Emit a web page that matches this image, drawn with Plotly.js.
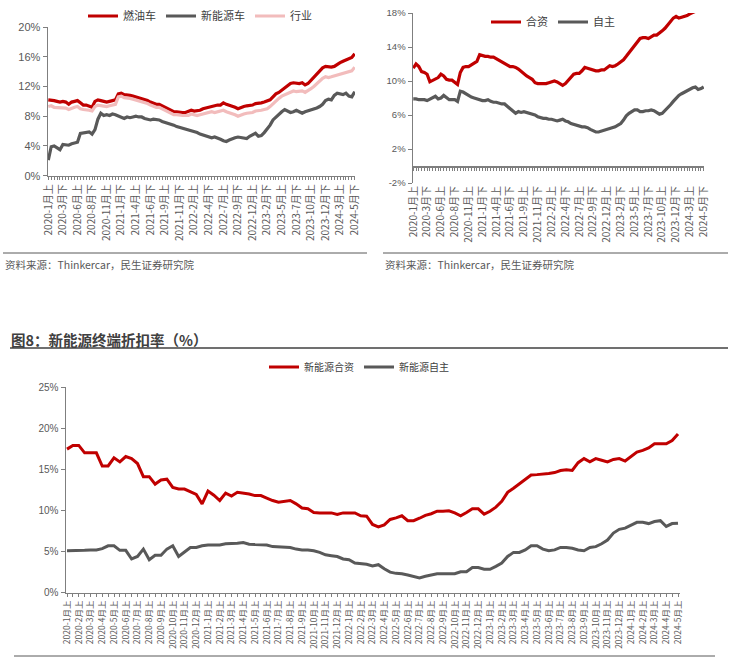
<!DOCTYPE html>
<html><head><meta charset="utf-8">
<script src="https://cdn.plot.ly/plotly-3.0.1.min.js"></script>
<style>html,body{margin:0;padding:0;background:#fff}#chart{width:731px;height:661px}</style>
</head><body><div id="chart"></div>
<script>
// ---------- categories (half-month periods) ----------
function halfMonths(count){
  const out=[];
  let y=2020,m=1,h=0;
  while(out.length<count){
    out.push(y+'-'+m+'月'+(h===0?'上':'下'));
    if(h===0){h=1;}else{h=0;m++;if(m>12){m=1;y++;}}
  }
  return out;
}
const periodsTop = halfMonths(106);   // 2020-1月上 ... 2024-5月下
const periodsBottom = halfMonths(105); // 2020-1月上 ... 2024-5月上

// ---------- chart 1 : 燃油车 / 新能源车 / 行业 ----------
const fuelCar = [10.2,10.2,10.1,10.0,9.9,10.0,9.9,9.6,9.9,10.0,10.1,9.8,9.5,9.5,9.4,9.2,10.0,10.2,10.1,10.0,
9.9,10.0,10.1,10.2,11.0,11.1,10.9,10.9,10.8,10.7,10.6,10.4,10.3,10.2,10.1,9.9,9.7,9.6,9.6,9.4,
9.2,9.0,8.9,8.6,8.6,8.5,8.5,8.5,8.6,8.8,8.7,8.7,8.8,9.0,9.1,9.3,9.4,9.4,9.5,9.5,
9.8,9.6,9.5,9.3,9.2,9.0,9.2,9.3,9.4,9.4,9.5,9.7,9.7,9.8,9.9,10.0,10.2,10.6,11.0,11.2,
11.5,11.8,12.1,12.4,12.5,12.4,12.4,12.5,12.2,12.4,12.8,13.2,13.6,14.1,14.5,14.7,14.6,14.6,14.7,15.0,
15.2,15.4,15.6,15.8,15.9,16.4];
const nevCar = [2.1,3.9,4.0,3.8,3.5,4.2,4.1,4.1,4.3,4.4,4.5,5.7,5.8,5.8,5.9,5.6,6.2,7.6,8.4,8.1,
8.2,8.1,8.3,8.2,8.0,7.9,7.7,7.9,7.8,7.9,8.0,7.9,7.9,7.7,7.6,7.5,7.6,7.6,7.5,7.3,
7.2,7.0,6.9,6.8,6.6,6.5,6.4,6.3,6.2,6.1,5.9,5.8,5.6,5.5,5.3,5.2,5.1,5.2,5.1,4.9,
4.7,4.6,4.8,5.0,5.1,5.2,5.1,5.0,5.0,5.3,5.5,5.7,5.3,5.4,5.8,6.3,6.8,7.5,7.9,8.2,
8.6,8.9,8.7,8.5,8.6,8.8,8.6,8.4,8.6,8.7,8.8,9.0,9.1,9.3,9.6,10.1,10.3,10.2,10.8,11.1,
11.0,10.9,11.1,10.7,10.6,11.3];
const industry = [9.3,9.4,9.2,9.2,9.1,9.2,9.1,8.9,9.1,9.2,9.3,9.0,8.9,8.9,8.8,8.7,9.3,9.5,9.4,9.4,
9.3,9.4,9.5,9.6,10.6,10.7,10.5,10.5,10.4,10.3,10.2,10.0,9.9,9.8,9.7,9.5,9.3,9.2,9.2,9.0,
8.8,8.6,8.5,8.2,8.2,8.1,8.1,8.1,8.1,8.3,8.2,8.1,8.2,8.3,8.3,8.5,8.6,8.5,8.6,8.6,
8.8,8.6,8.5,8.3,8.2,8.0,8.2,8.3,8.4,8.4,8.5,8.7,8.7,8.8,8.9,9.0,9.3,9.7,10.1,10.4,
10.7,10.9,11.1,11.3,11.4,11.3,11.3,11.4,11.2,11.4,11.7,12.0,12.4,12.8,13.1,13.3,13.2,13.3,13.4,13.5,
13.7,13.8,13.9,14.0,14.1,14.6];

// ---------- chart 2 : 合资 / 自主 ----------
const jointVenture = [11.5,12.0,11.7,11.1,11.0,10.8,9.9,10.1,10.2,10.4,10.8,10.6,10.2,10.1,10.1,9.9,9.6,11.0,11.6,11.7,
11.7,11.9,12.1,12.3,13.1,13.0,12.9,12.9,12.8,12.8,12.6,12.4,12.3,12.0,11.8,11.7,11.7,11.6,11.4,11.1,
10.9,10.6,10.4,10.2,9.8,9.7,9.7,9.7,9.7,9.8,9.9,10.0,9.9,9.7,9.5,9.7,10.1,10.5,10.8,10.9,
10.9,11.2,11.6,11.5,11.4,11.3,11.2,11.2,11.3,11.3,11.5,11.8,11.7,11.8,12.0,12.2,12.5,12.9,13.3,13.7,
14.1,14.5,15.0,15.1,15.1,15.0,15.2,15.4,15.4,15.6,15.9,16.2,16.6,17.0,17.4,17.6,17.4,17.5,17.6,17.7,
17.9,18.0,18.2,18.4,18.6,18.8];
const domestic = [7.9,7.9,7.8,7.8,7.8,7.7,7.9,8.0,8.2,7.9,8.0,8.3,8.0,7.8,7.8,7.8,7.6,8.8,8.7,8.5,
8.2,8.1,8.0,7.9,7.8,7.7,7.7,7.8,7.6,7.5,7.5,7.4,7.3,7.3,7.0,6.7,6.4,6.2,6.4,6.3,
6.4,6.3,6.2,6.1,6.0,5.8,5.7,5.6,5.6,5.5,5.5,5.4,5.3,5.4,5.5,5.3,5.2,5.0,4.9,4.8,
4.7,4.6,4.6,4.5,4.3,4.1,4.0,4.0,4.1,4.2,4.3,4.4,4.5,4.6,4.8,5.0,5.4,5.9,6.2,6.4,
6.6,6.6,6.4,6.4,6.5,6.5,6.6,6.5,6.3,6.1,6.2,6.5,6.8,7.2,7.6,8.0,8.3,8.5,8.7,8.8,
9.1,9.2,9.3,9.0,9.1,9.3];

// ---------- chart 3 : 新能源合资 / 新能源自主 ----------
const nevJV = [17.45,17.9,17.9,17.0,17.0,17.0,15.4,15.4,16.4,15.9,16.55,16.3,15.7,14.1,14.1,13.2,13.7,13.8,12.8,12.6,
12.6,12.3,11.95,10.8,12.35,11.85,11.2,12.1,11.75,12.2,12.1,12.0,11.8,11.8,11.5,11.2,11.0,11.1,11.2,10.8,
10.3,10.2,9.75,9.7,9.7,9.7,9.5,9.7,9.7,9.7,9.35,9.3,8.3,8.0,8.25,8.9,9.1,9.35,8.75,8.75,
9.05,9.4,9.6,9.9,9.9,9.95,9.7,9.35,9.75,10.2,10.2,9.55,9.9,10.4,11.1,12.2,12.7,13.25,13.7,14.3,
14.35,14.4,14.5,14.6,14.85,14.95,14.85,15.8,16.3,15.9,16.3,16.1,15.9,16.2,16.3,16.0,16.5,17.1,17.3,17.6,
18.1,18.1,18.1,18.5,19.3];
const nevDomestic = [5.1,5.1,5.15,5.15,5.2,5.2,5.35,5.7,5.7,5.15,5.15,4.1,4.4,5.3,4.0,4.55,4.55,5.3,5.7,4.4,
4.95,5.5,5.5,5.7,5.8,5.8,5.8,5.95,5.95,6.0,6.1,5.9,5.85,5.85,5.8,5.6,5.55,5.5,5.5,5.3,
5.2,5.2,5.1,4.9,4.6,4.5,4.4,4.1,4.0,3.6,3.5,3.45,3.25,3.4,2.9,2.5,2.35,2.3,2.15,1.95,
1.8,2.0,2.15,2.3,2.3,2.3,2.3,2.55,2.55,3.05,3.05,2.85,2.85,3.2,3.6,4.4,4.9,4.9,5.2,5.7,
5.7,5.3,5.1,5.2,5.5,5.5,5.4,5.2,5.1,5.5,5.6,5.95,6.4,7.25,7.7,7.85,8.2,8.55,8.55,8.4,
8.65,8.75,8.05,8.4,8.45];

// tick labels
const ticksTop = periodsTop.filter((c,i)=>i%5===0);
const ticksBottom = periodsBottom.filter((c,i)=>i%2===0);
const yTicks1 = [0,4,8,12,16,20];
const yTicks2 = [-2,2,6,10,14,18];
const yTicks3 = [0,5,10,15,20,25];

const RED='#C00000', GRAY='#595959', PINK='#F2BCBC';
const AX='#7F7F7F', TXT='#595959';
const LAT='Liberation Sans, Arial, Noto Sans CJK SC, sans-serif';
const CJK='Noto Sans CJK SC, Liberation Sans, sans-serif';
const W=731,H=661;
const px=v=>v/W, py=v=>1-v/H;

function xAxis(cats, labels, dom, range, fs, extra){
  const set=new Set(labels);
  return Object.assign({
    type:'category', domain:dom, range:range,
    categoryorder:'array', categoryarray:cats,
    tickmode:'array', tickvals:cats, ticktext:cats.map(c=>set.has(c)?c:''),
    tickangle:-90, ticks:'outside', ticklen:3, tickwidth:1, tickcolor:AX,
    showline:true, linecolor:AX, linewidth:1.5, showgrid:false, zeroline:false,
    tickfont:{family:CJK,size:fs,color:TXT}, fixedrange:true
  }, extra||{});
}
function yAxis(dom, range, vals, fs, extra){
  return Object.assign({
    domain:dom, range:range, tickmode:'array', tickvals:vals, ticktext:vals.map(v=>v+'%'),
    ticks:'outside', ticklen:4, tickcolor:AX, showline:true, linecolor:AX, linewidth:1.5,
    showgrid:false, zeroline:false, tickfont:{family:LAT,size:fs,color:TXT}, fixedrange:true
  }, extra||{});
}

const traces=[
  {x:periodsTop,y:fuelCar,name:'燃油车',type:'scatter',mode:'lines',line:{color:RED,width:3.2},xaxis:'x',yaxis:'y',legend:'legend'},
  {x:periodsTop,y:nevCar,name:'新能源车',type:'scatter',mode:'lines',line:{color:GRAY,width:3.2},xaxis:'x',yaxis:'y',legend:'legend'},
  {x:periodsTop,y:industry,name:'行业',type:'scatter',mode:'lines',line:{color:PINK,width:3.2},xaxis:'x',yaxis:'y',legend:'legend'},
  {x:periodsTop,y:jointVenture,name:'合资',type:'scatter',mode:'lines',line:{color:RED,width:3.2},xaxis:'x2',yaxis:'y2',legend:'legend2'},
  {x:periodsTop,y:domestic,name:'自主',type:'scatter',mode:'lines',line:{color:GRAY,width:3.2},xaxis:'x4',yaxis:'y2',legend:'legend2'},
  {x:periodsBottom,y:nevJV,name:'新能源合资',type:'scatter',mode:'lines',line:{color:RED,width:3},xaxis:'x3',yaxis:'y3',legend:'legend3'},
  {x:periodsBottom,y:nevDomestic,name:'新能源自主',type:'scatter',mode:'lines',line:{color:GRAY,width:3},xaxis:'x3',yaxis:'y3',legend:'legend3'}
];

const dom1x=[px(48),px(355)], dom1y=[py(175.7),py(27)];
const dom2x=[px(413),px(704)], dom2y=[py(183),py(13)];
const dom3x=[px(66),px(680)], dom3y=[py(592.7),py(387)];
const zeroPos2 = dom2y[0] + (dom2y[1]-dom2y[0])*(2/20);

const legBase={orientation:'h',xanchor:'left',yanchor:'middle',bgcolor:'rgba(0,0,0,0)',
  font:{family:CJK,size:11,color:'#404040'},itemwidth:30,tracegroupgap:0};

const layout={
  width:W,height:H,autosize:false,margin:{l:0,r:0,t:0,b:0},
  paper_bgcolor:'#fff',plot_bgcolor:'rgba(0,0,0,0)',showlegend:true,
  xaxis:xAxis(periodsTop,ticksTop,dom1x,[-0.1,105.1],10,{anchor:'y'}),
  yaxis:yAxis(dom1y,[0,20],yTicks1,11,{anchor:'x'}),
  xaxis2:xAxis(periodsTop,ticksTop,dom2x,[-0.1,105.1],10,{anchor:'y2',showline:false,ticks:''}),
  yaxis2:yAxis(dom2y,[-2,18],yTicks2,9.5,{anchor:'x2'}),
  xaxis4:xAxis(periodsTop,ticksTop,dom2x,[-0.1,105.1],10,{overlaying:'x2',anchor:'free',position:zeroPos2,showticklabels:false}),
  xaxis3:xAxis(periodsBottom,ticksBottom,dom3x,[-0.17,104.34],8.5,{anchor:'y3'}),
  yaxis3:yAxis(dom3y,[0,25],yTicks3,10,{anchor:'x3'}),
  legend:Object.assign({},legBase,{x:px(83),y:py(16)}),
  legend2:Object.assign({},legBase,{x:px(486),y:py(22)}),
  legend3:Object.assign({},legBase,{x:px(264),y:py(367),font:{family:CJK,size:10,color:'#404040'}}),
  shapes:[
    {type:'line',xref:'paper',yref:'paper',x0:px(3),x1:px(367),y0:py(253),y1:py(253),line:{color:'#595959',width:1}},
    {type:'line',xref:'paper',yref:'paper',x0:px(383),x1:px(728),y0:py(253),y1:py(253),line:{color:'#595959',width:1}},
    {type:'line',xref:'paper',yref:'paper',x0:px(10),x1:px(728),y0:py(348),y1:py(348),line:{color:'#404040',width:1.5}},
    {type:'line',xref:'paper',yref:'paper',x0:px(14),x1:px(715),y0:py(656),y1:py(656),line:{color:'#595959',width:1}}
  ],
  annotations:[
    {xref:'paper',yref:'paper',x:px(3),y:py(265),xanchor:'left',yanchor:'middle',showarrow:false,
     text:'资料来源：Thinkercar，民生证券研究院',font:{family:CJK,size:10.5,color:TXT}},
    {xref:'paper',yref:'paper',x:px(383),y:py(265),xanchor:'left',yanchor:'middle',showarrow:false,
     text:'资料来源：Thinkercar，民生证券研究院',font:{family:CJK,size:10.5,color:TXT}},
    {xref:'paper',yref:'paper',x:px(9),y:py(339),xanchor:'left',yanchor:'middle',showarrow:false,
     text:'图8：新能源终端折扣率（%）',font:{family:CJK,size:14.5,color:'#404040',weight:'bold'}}
  ]
};
Plotly.newPlot('chart',traces,layout,{staticPlot:true,displayModeBar:false});
</script></body></html>
